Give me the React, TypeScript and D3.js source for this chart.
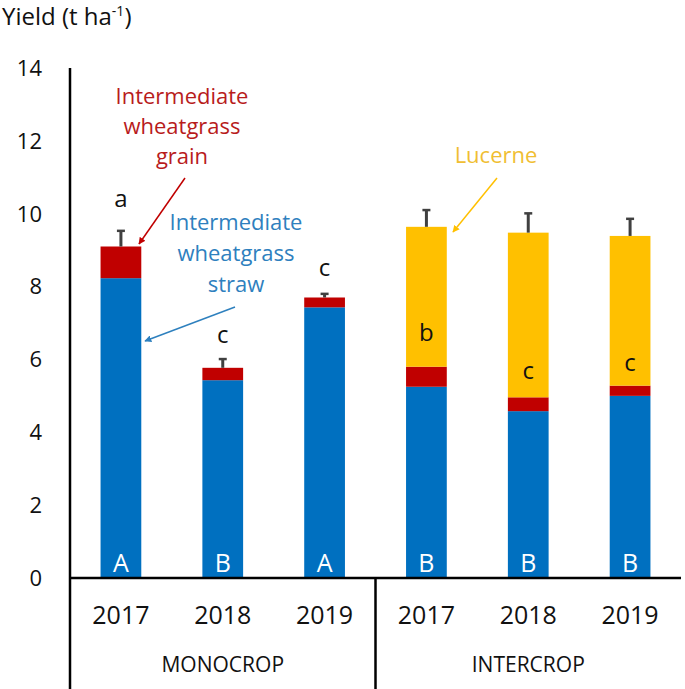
import React from "react";
import * as d3 from "d3";

const categories = ["M2017", "M2018", "M2019", "I2017", "I2018", "I2019"];
const yearLabels = ["2017", "2018", "2019", "2017", "2018", "2019"];
const groups = ["MONOCROP", "INTERCROP"];
const straw = [8.23, 5.43, 7.43, 5.25, 4.58, 5.0];
const grain = [0.87, 0.34, 0.27, 0.55, 0.38, 0.28];
const lucerne = [0, 0, 0, 3.84, 4.52, 4.11];
const errUp = [0.43, 0.24, 0.1, 0.46, 0.53, 0.47];
const lowerLetters = ["a", "c", "c", "b", "c", "c"];
const lowerLetterAt = [10.18, 6.45, 8.3, 6.5, 5.45, 5.67];
const upperLetters = ["A", "B", "A", "B", "B", "B"];
const yTicks = [0, 2, 4, 6, 8, 10, 12, 14];

const W = 685;
const H = 689;
const FONT = "'Open Sans', sans-serif";
const BLUE = "#0070C0";
const RED = "#C00000";
const YELLOW = "#FFC000";
const RED_TXT = "#B81C1C";
const BLUE_TXT = "#2E80BE";

export default function App() {
  const x = d3
    .scaleBand<string>()
    .domain(categories)
    .range([70, 681])
    .paddingInner(0.6)
    .paddingOuter(0.3);
  const y = d3.scaleLinear().domain([0, 14]).range([578, 68]);
  const step = x.step();
  const bw = x.bandwidth();
  const cx = (i: number) => (x(categories[i]) as number) + bw / 2;

  const stack = categories.map((c, i) => {
    const s0 = 0;
    const s1 = straw[i];
    const g1 = s1 + grain[i];
    const l1 = g1 + lucerne[i];
    return { c, i, s0, s1, g1, l1 };
  });

  const sepX = 70 + 3 * step;

  return (
    <svg
      width={W}
      height={H}
      style={{ position: "absolute", left: 0, top: 0, background: "#fff" }}
      fontFamily={FONT}
    >
      <defs>
        <marker id="arR" viewBox="0 0 10 10" refX="9" refY="5" markerWidth="7" markerHeight="7" orient="auto-start-reverse" markerUnits="userSpaceOnUse">
          <path d="M0,0 L10,5 L0,10 z" fill={RED} />
        </marker>
        <marker id="arB" viewBox="0 0 10 10" refX="9" refY="5" markerWidth="7" markerHeight="7" orient="auto-start-reverse" markerUnits="userSpaceOnUse">
          <path d="M0,0 L10,5 L0,10 z" fill={BLUE_TXT} />
        </marker>
        <marker id="arY" viewBox="0 0 10 10" refX="9" refY="5" markerWidth="7" markerHeight="7" orient="auto-start-reverse" markerUnits="userSpaceOnUse">
          <path d="M0,0 L10,5 L0,10 z" fill={YELLOW} />
        </marker>
      </defs>

      {/* title */}
      <text x={2} y={25} fontSize={24} fill="#111">
        Yield (t ha
        <tspan fontSize={14} dy={-9}>-1</tspan>
        <tspan dy={9}>)</tspan>
      </text>

      {/* y ticks labels */}
      {yTicks.map((t) => (
        <text key={t} x={42} y={y(t)} dy="0.36em" textAnchor="end" fontSize={22} fill="#111">
          {t}
        </text>
      ))}

      {/* bars */}
      {stack.map((d) => (
        <g key={d.c}>
          <rect x={x(d.c)} y={y(d.s1)} width={bw} height={y(d.s0) - y(d.s1)} fill={BLUE} />
          <rect x={x(d.c)} y={y(d.g1)} width={bw} height={y(d.s1) - y(d.g1)} fill={RED} />
          {lucerne[d.i] > 0 && (
            <rect x={x(d.c)} y={y(d.l1)} width={bw} height={y(d.g1) - y(d.l1)} fill={YELLOW} />
          )}
          {/* error bar */}
          <line x1={cx(d.i)} x2={cx(d.i)} y1={y(d.l1)} y2={y(d.l1 + errUp[d.i])} stroke="#404040" strokeWidth={3} />
          <line x1={cx(d.i) - 4} x2={cx(d.i) + 4} y1={y(d.l1 + errUp[d.i])} y2={y(d.l1 + errUp[d.i])} stroke="#404040" strokeWidth={2.5} />
          <text x={cx(d.i)} y={y(lowerLetterAt[d.i])} textAnchor="middle" fontSize={24} fill="#111">
            {lowerLetters[d.i]}
          </text>
          <text x={cx(d.i)} y={572} textAnchor="middle" fontSize={25} fill="#fff">
            {upperLetters[d.i]}
          </text>
        </g>
      ))}

      {/* axes */}
      <line x1={70} x2={70} y1={68} y2={H} stroke="#000" strokeWidth={2.5} />
      <line x1={69} x2={681} y1={578} y2={578} stroke="#000" strokeWidth={2.5} />
      <line x1={sepX} x2={sepX} y1={578} y2={H} stroke="#000" strokeWidth={2.5} />

      {yearLabels.map((l, i) => (
        <text key={i} x={cx(i)} y={624} textAnchor="middle" fontSize={25} fill="#111">
          {l}
        </text>
      ))}
      {groups.map((g, gi) => (
        <text key={g} x={70 + step * (1.5 + gi * 3)} y={672} textAnchor="middle" fontSize={21} fill="#111">
          {g}
        </text>
      ))}

      {/* annotations */}
      <text textAnchor="middle" fontSize={22} fill={RED_TXT}>
        <tspan x={182} y={104}>Intermediate</tspan>
        <tspan x={182} y={134}>wheatgrass</tspan>
        <tspan x={182} y={164}>grain</tspan>
      </text>
      <line x1={185} y1={178} x2={139} y2={244} stroke={RED} strokeWidth={1.5} markerEnd="url(#arR)" />

      <text textAnchor="middle" fontSize={22} fill={BLUE_TXT}>
        <tspan x={236} y={230}>Intermediate</tspan>
        <tspan x={236} y={261}>wheatgrass</tspan>
        <tspan x={236} y={292}>straw</tspan>
      </text>
      <line x1={235} y1={307} x2={145} y2={341} stroke={BLUE_TXT} strokeWidth={1.5} markerEnd="url(#arB)" />

      <text x={496} y={163} textAnchor="middle" fontSize={22} fill="#F0BE32">
        Lucerne
      </text>
      <line x1={497} y1={178} x2={453} y2={232} stroke={YELLOW} strokeWidth={1.5} markerEnd="url(#arY)" />
    </svg>
  );
}
